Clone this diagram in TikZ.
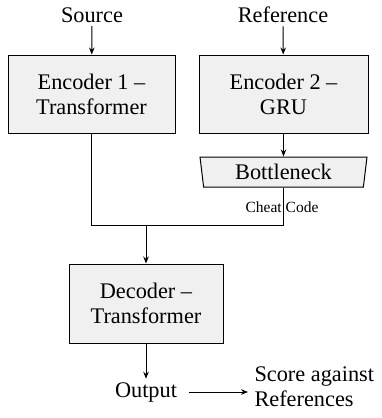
\documentclass[tikz,border=0pt]{standalone}
\usepackage{fontspec}
\setmainfont{Liberation Serif}
\usetikzlibrary{arrows.meta,shapes.geometric}
\begin{document}
\begin{tikzpicture}[x=1pt,y=-1pt,
  every node/.style={font=\fontsize{22.3}{25}\selectfont},
  box/.style={draw,line width=1pt,fill=gray!12,align=center,inner sep=0pt},
  conn/.style={line width=1pt},
  arr/.style={line width=1pt,-{Stealth[length=7pt,width=5.5pt]}}]
\useasboundingbox (0,0) rectangle (382,418);
\node (src) at (92,15) {Source};
\node (ref) at (283,15) {Reference};
\node[box,minimum width=167pt,minimum height=78pt] (enc1) at (91.5,94) {Encoder 1 --\\Transformer};
\node[box,minimum width=169pt,minimum height=78pt] (enc2) at (283.5,94) {Encoder 2 --\\GRU};
\node[box,trapezium,trapezium stretches body,trapezium left angle=77,trapezium right angle=77,shape border rotate=180,minimum width=167pt,minimum height=30pt] (bott) at (283.5,172) {Bottleneck};
\node[font=\fontsize{15.5}{18}\selectfont] (cheat) at (282,207) {Cheat Code};
\node[box,minimum width=154pt,minimum height=79pt] (dec) at (146,303.5) {Decoder --\\Transformer};
\node (out) at (146,392) {Output};
\node[align=left,anchor=west] (score) at (251,387) {Score against\\References};
\coordinate (jr) at (bott.south |- 0,225);
\coordinate (jm) at (dec.north |- 0,225);
\coordinate (oe) at ([xshift=8pt]out.east);
\coordinate (se) at ([xshift=-3pt]score.west |- out.east);
\draw[arr] (src) -- (enc1);
\draw[arr] (ref) -- (enc2);
\draw[arr] (enc2) -- (bott);
\draw[conn] (enc1.south) |- (jr) -- (bott.south);
\draw[arr] (jm) -- (dec.north);
\draw[arr] (dec) -- (out);
\draw[arr] (oe) -- (se);
\end{tikzpicture}
\end{document}
